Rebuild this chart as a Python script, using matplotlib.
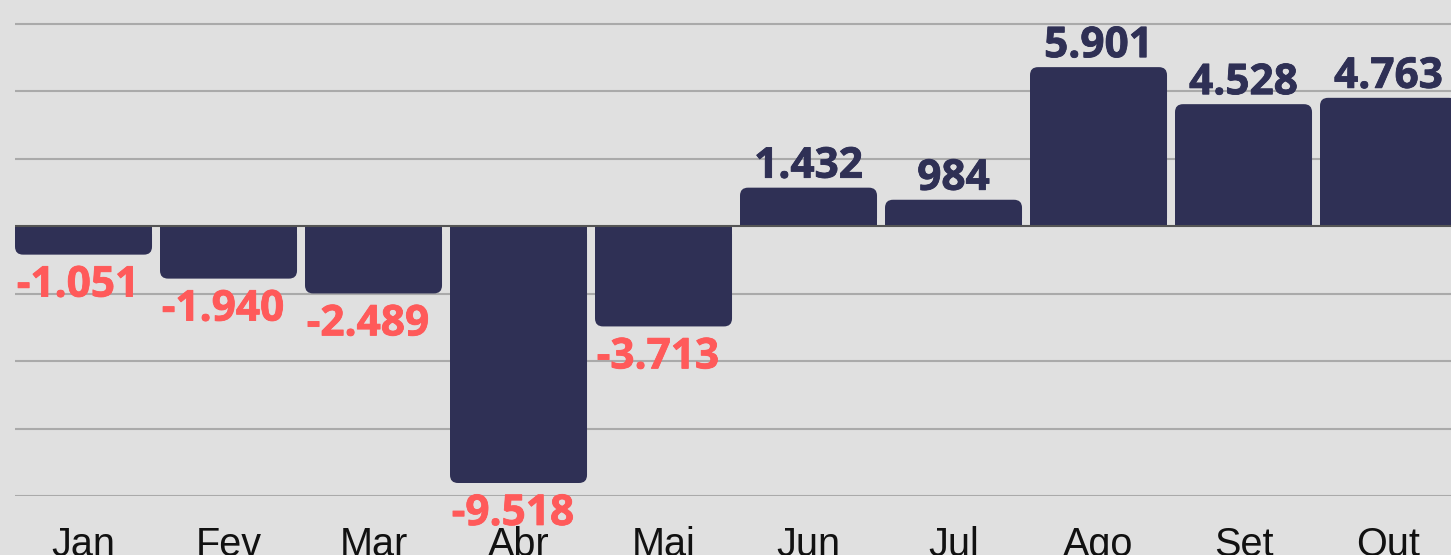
import matplotlib
matplotlib.use("Agg")
import matplotlib.pyplot as plt
import matplotlib.patheffects as pe
from matplotlib.patches import FancyBboxPatch, Rectangle

months = ["Jan", "Fev", "Mar", "Abr", "Mai", "Jun", "Jul", "Ago", "Set", "Out"]
values = [-1051, -1940, -2489, -9518, -3713, 1432, 984, 5901, 4528, 4763]
labels = ["-1.051", "-1.940", "-2.489", "-9.518", "-3.713", "1.432", "984", "5.901", "4.528", "4.763"]

BG = "#e0e0e0"
BAR = "#2f3055"
NEG = "#ff5a5a"

W, H = 1451, 555
fig = plt.figure(figsize=(W / 100, H / 100), dpi=100, facecolor=BG)
ax_left = 15 / W
ax_bottom = (H - 496) / H
ax_w = 1450 / W
ax_h = 496 / H
ax = fig.add_axes([ax_left, ax_bottom, ax_w, ax_h])
ax.set_facecolor(BG)

bw = 0.945
x = list(range(len(months)))
ax.set_xlim(-bw / 2, 10 - bw / 2)
ax.set_ylim(-10000, 8390)

for s in ax.spines.values():
    s.set_visible(False)

for yv in [-10000, -7500, -5000, -2500, 2500, 5000, 7500]:
    ax.axhline(yv, color="#aaaaaa", lw=1.5, zorder=1)

bars = ax.bar(x, values, width=bw, color=BAR, zorder=2)

fig.canvas.draw()
inv = ax.transData.inverted()
p0 = inv.transform((0, 0))
p1 = inv.transform((1, 1))
xpp = p1[0] - p0[0]
ypp = p1[1] - p0[1]
r_px = 8
for b in bars:
    b.set_visible(False)
    x0, w, h = b.get_x(), b.get_width(), b.get_height()
    y0 = min(0, h)
    hh = abs(h)
    fb = FancyBboxPatch((x0, y0), w, hh,
                        boxstyle=f"round,pad=0,rounding_size={r_px * xpp}",
                        mutation_aspect=ypp / xpp,
                        fc=BAR, ec="none", zorder=2)
    ax.add_patch(fb)
    sq = min(hh, r_px * 1.5 * ypp)
    if h >= 0:
        ax.add_patch(Rectangle((x0, 0), w, sq, fc=BAR, ec="none", zorder=2))
    else:
        ax.add_patch(Rectangle((x0, -sq), w, sq, fc=BAR, ec="none", zorder=2))

ax.axhline(0, color="#555555", lw=1.5, zorder=3)

for xi, v, lab in zip(x, values, labels):
    col = BAR if v >= 0 else NEG
    off = (0, 7.2) if v >= 0 else (-4, -30.2)
    t = ax.annotate(lab, (xi, v), xytext=off, textcoords="offset points",
                    ha="center", va="baseline", fontsize=30.5, fontweight="bold",
                    family="Open Sans", color=col, zorder=4)
    t.set_path_effects([pe.Stroke(linewidth=0.6, foreground=col), pe.Normal()])

ax.set_yticks([])
ax.set_xticks(x)
ax.set_xticklabels(months, fontsize=28.5, family="Liberation Sans", color="#111111")
ax.tick_params(axis="x", length=0, pad=21.5)

fig.savefig("out.png", dpi=100, facecolor=BG)
